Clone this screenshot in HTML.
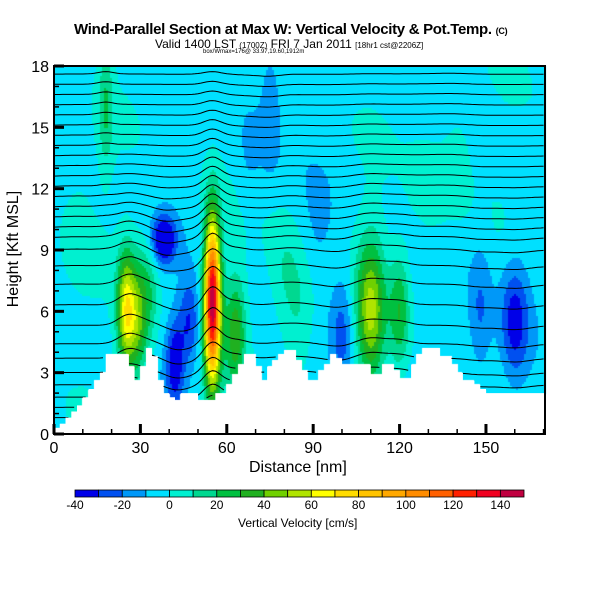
<!DOCTYPE html>
<html><head><meta charset="utf-8"><style>
body{margin:0;background:#fff;width:600px;height:600px;overflow:hidden;position:relative;font-family:"Liberation Sans",sans-serif}
.t{position:absolute;white-space:nowrap;color:#000}
canvas{position:absolute;left:0;top:0}
svg{position:absolute;left:0;top:0}
</style></head><body>
<div class="t" style="left:74px;top:21px;font-size:15px;font-weight:bold;letter-spacing:-0.3px">Wind-Parallel Section at Max W: Vertical Velocity &amp; Pot.Temp. <span style="font-size:9px">(C)</span></div>
<div class="t" style="left:155px;top:37px;font-size:12px">Valid 1400 LST <span style="font-size:8px">(1700Z)</span> FRI 7 Jan 2011 <span style="font-size:8px">[18hr1 cst@2206Z]</span></div>
<div class="t" style="left:203px;top:49px;font-size:6px">box/Wmax=176@ 33.97,19.60,1912m</div>
<canvas id="cv" width="600" height="600"></canvas>
<svg id="sv" width="600" height="600"></svg>
<div class="t" style="left:249px;top:459px;font-size:16px">Distance [nm]</div>
<div class="t" style="left:-50px;top:240px;font-size:16px;transform:rotate(-90deg);width:128px;text-align:center">Height [Kft MSL]</div>
<div class="t" style="left:238px;top:516px;font-size:12px">Vertical Velocity [cm/s]</div>
<script>
const xTicks=[0,30,60,90,120,150];
const yTicks=[0,3,6,9,12,15,18];
const cbTicks=[-40,-20,0,20,40,60,80,100,120,140];
const levels=[-40,-30,-20,-10,0,10,20,30,40,50,60,70,80,90,100,110,120,130,140,150];
const levelColors=["#0000e8","#0050f0","#0098f8","#00e0ff","#00f0d0","#00d890","#00c040","#20b020","#70d000","#b0e400","#ffff00","#ffdc00","#ffc400","#ffa800","#ff8c00","#ff6000","#ff2000","#f00020","#c00040"];
const terrainDist=[0,2,4,6,8,10,12,14,16,18,20,22,24,26,28,30,32,34,36,38,40,42,44,46,48,50,52,54,56,58,60,62,64,66,68,70,72,74,76,78,80,82,84,86,88,90,92,94,96,98,100,102,104,106,108,110,112,114,116,118,120,122,124,126,128,130,132,134,136,138,140,142,144,146,148,150,152,154,156,158,160,162,164,166,168,170];
const terrainHgt=[0.3,0.5,0.8,1.1,1.4,1.8,2.2,2.6,3.0,3.9,3.9,3.9,3.9,3.3,2.6,3.3,4.2,3.8,2.6,2.0,1.8,1.65,2.0,2.0,2.0,1.65,1.65,1.65,2.0,2.0,2.4,2.9,3.4,3.9,3.9,3.3,2.6,3.3,3.6,3.9,4.1,4.1,3.6,3.1,2.6,2.6,3.1,3.4,3.9,3.7,3.4,3.4,3.4,3.4,3.4,2.9,2.9,3.4,3.4,3.1,2.7,2.7,3.4,3.9,4.2,4.2,4.2,3.8,3.8,3.4,3.0,2.6,2.6,2.4,2.2,2.0,2.0,2.0,2.0,2.0,2.0,2.0,2.0,2.0,2.0,2.0];
const cellX=[25,29,55,38,42,47,63,110,120,100,160,148,85,18,75,130,8,68,92,140,33,80];
const cellZ=[6,5.5,6.5,9.5,3.5,5.5,5,6,6,5,5.5,6,6,16,16,12,10,14,10,14,7,8];
const cellW=[65,40,150,-45,-35,-28,38,55,32,-22,-32,-18,15,22,-16,10,8,-10,-8,8,20,12];
const cellSx=[2.2,2.4,2,3,2.2,2.5,2.5,3.5,2.5,3,3.5,3,4,1.8,2.5,5,4,3,4,4,2.5,4];
const cellSz=[2,2,2.8,0.8,1.5,1.5,2,2.5,2,2,2,2.5,2,2.2,2.2,2,2,2,2,2,2,2];
const thetaBase=[0.8,1.3,1.8,2.4,3.0,3.7,4.4,5.3,6.3,7.3,8.2,9.0,9.6,10.1,10.6,11.1,11.6,12.1,12.6,13.1,13.6,14.1,14.6,15.1,15.6,16.1,16.6,17.1,17.6];
const X0=54,X1=545,Y0=66,Y1=434,DMAX=170.5,ZMAX=18;
const sx=d=>X0+d/DMAX*(X1-X0), sy=z=>Y1-z/ZMAX*(Y1-Y0);
function terr(d){let i=Math.min(terrainDist.length-1,Math.max(0,Math.floor(d/2)));return terrainHgt[i];}
function w(d,z){let v=-3.5+5*Math.sin(d*0.11+z*0.35)*Math.cos(z*0.45-d*0.03);for(let i=0;i<cellX.length;i++){const a=(d-cellX[i])/cellSx[i],b=(z-cellZ[i])/cellSz[i];v+=cellW[i]*Math.exp(-0.5*(a*a+b*b));}return v;}
function col(v){for(let i=0;i<levelColors.length;i++){if(v<levels[i+1])return levelColors[i];}return levelColors[levelColors.length-1];}
const cv=document.getElementById('cv'),ctx=cv.getContext('2d');
const step=2;
for(let px=X0;px<X1;px+=step){const d=(px+step/2-X0)/(X1-X0)*DMAX;const tz=terr(d);
 for(let py=Y0;py<Y1;py+=step){const z=(Y1-(py+step/2))/(Y1-Y0)*ZMAX;
  ctx.fillStyle=z<tz?'#ffffff':col(w(d,z));ctx.fillRect(px,py,step,step);}}
const NS='http://www.w3.org/2000/svg',sv=document.getElementById('sv');
function mk(t,a){const e=document.createElementNS(NS,t);for(const k in a)e.setAttribute(k,a[k]);sv.appendChild(e);return e;}
thetaBase.forEach((z0,j)=>{let p='';let on=false;
 for(let d=0;d<=DMAX;d+=1){let z=z0;for(let i=0;i<cellX.length;i++){const a=(d-cellX[i])/(cellSx[i]*1.5),b=(z0-cellZ[i])/(cellSz[i]*2);z+=cellW[i]*0.006*Math.exp(-0.5*(a*a+b*b));}
  if(z<terr(d)||z>ZMAX){on=false;continue;}
  p+=(on?'L':'M')+sx(d).toFixed(1)+' '+sy(z).toFixed(1);on=true;}
 const e=mk('path',{d:p,fill:'none',stroke:'#000','stroke-width':1});
 
 
});
let tp='M'+X0+' '+Y1;terrainDist.forEach((d,i)=>{const x0=sx(d),x1=sx(Math.min(DMAX,d+2));tp+='L'+x0.toFixed(1)+' '+sy(terrainHgt[i]).toFixed(1)+'L'+x1.toFixed(1)+' '+sy(terrainHgt[i]).toFixed(1);});tp+='L'+X1+' '+Y1+'Z';
const te=mk('path',{d:tp,fill:'#fff',stroke:'none'});


const fr=mk('rect',{x:X0,y:Y0,width:X1-X0,height:Y1-Y0,fill:'none',stroke:'#000','stroke-width':2});


for(let d=0;d<=170;d+=10){const major=d%30==0;const l=mk('line',{x1:sx(d),x2:sx(d),y1:Y1,y2:Y1-(major?10:5),stroke:'#000','stroke-width':major?3:1.5});
 
 }
xTicks.forEach(d=>{const t=mk('text',{x:sx(d),y:Y1+19,'text-anchor':'middle','font-size':16,'font-family':'Liberation Sans'});t.textContent=d;
 
 });
for(let z=0;z<=18;z++){const major=z%3==0;const l=mk('line',{x1:X0,x2:X0+(major?10:5),y1:sy(z),y2:sy(z),stroke:'#000','stroke-width':major?3:1.5});
 
 }
yTicks.forEach(z=>{const t=mk('text',{x:X0-5,y:sy(z)+6,'text-anchor':'end','font-size':16,'font-family':'Liberation Sans'});t.textContent=z;
 
 });
const CB0=75,CB1=524,cbw=(CB1-CB0)/levelColors.length;
levelColors.forEach((c,i)=>{const r=mk('rect',{x:CB0+i*cbw,y:490,width:cbw,height:7,fill:c,stroke:'#000','stroke-width':0.8});
 
 });
cbTicks.forEach(v=>{const t=mk('text',{x:CB0+(v+40)/190*(CB1-CB0),y:509,'text-anchor':'middle','font-size':12,'font-family':'Liberation Sans'});t.textContent=v;
 
 });
</script>
</body></html>
